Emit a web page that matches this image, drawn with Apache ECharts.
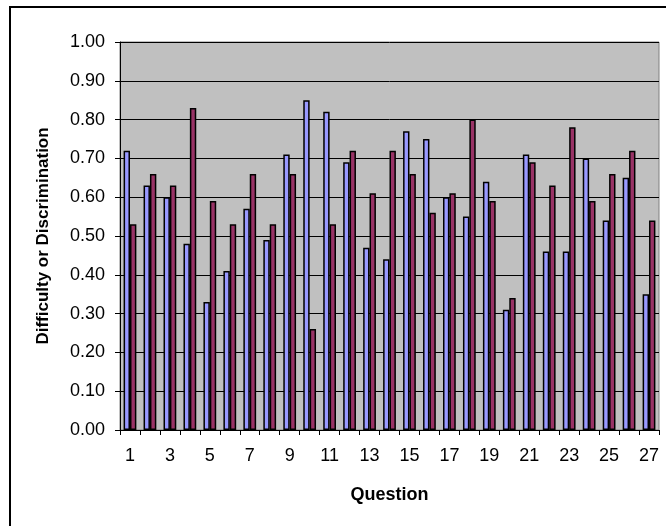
<!DOCTYPE html>
<html>
<head>
<meta charset="utf-8">
<script src="https://cdn.jsdelivr.net/npm/echarts@6/dist/echarts.min.js"></script>
<style>
  html, body { margin: 0; padding: 0; background: #fff; }
  #main { width: 666px; height: 526px; }
</style>
</head>
<body>
<div id="main"></div>
<script>
var questions = [];
for (var q = 1; q <= 27; q++) questions.push(String(q));

var difficulty = [0.72, 0.63, 0.60, 0.48, 0.33, 0.41, 0.57, 0.49, 0.71, 0.85,
  0.82, 0.69, 0.47, 0.44, 0.77, 0.75, 0.60, 0.55, 0.64, 0.31,
  0.71, 0.46, 0.46, 0.70, 0.54, 0.65, 0.35];
var discrimination = [0.53, 0.66, 0.63, 0.83, 0.59, 0.53, 0.66, 0.53, 0.66, 0.26,
  0.53, 0.72, 0.61, 0.72, 0.66, 0.56, 0.61, 0.80, 0.59, 0.34,
  0.69, 0.63, 0.78, 0.59, 0.66, 0.72, 0.54];

var chartDom = document.getElementById('main');
var myChart = echarts.init(chartDom);
var font = 'Liberation Sans, Arial, sans-serif';

var option = {
  animation: false,
  textStyle: { fontFamily: font },
  graphic: [
    {
      type: 'rect',
      shape: { x: 10, y: 7, width: 680, height: 540 },
      style: { fill: 'none', stroke: '#000', lineWidth: 2 },
      z: -10
    }
  ],
  grid: {
    left: 120,
    right: 7,
    top: 42,
    bottom: 96,
    show: true,
    backgroundColor: '#C0C0C0',
    borderColor: '#808080',
    borderWidth: 1
  },
  xAxis: {
    type: 'category',
    data: questions,
    name: 'Question',
    nameLocation: 'middle',
    nameGap: 56,
    nameTextStyle: { fontWeight: 'bold', fontSize: 18, color: '#000', fontFamily: font },
    axisLine: { lineStyle: { color: '#000', width: 1 } },
    axisTick: { show: true, interval: 0, length: 5, lineStyle: { color: '#000' } },
    axisLabel: { interval: 1, color: '#000', fontSize: 18, margin: 17, fontFamily: font },
    splitLine: { show: false }
  },
  yAxis: {
    type: 'value',
    min: 0,
    max: 1,
    interval: 0.1,
    name: 'Difficulty or Discrimination',
    nameLocation: 'middle',
    nameGap: 68,
    nameTextStyle: { fontWeight: 'bold', fontSize: 17, color: '#000', fontFamily: font },
    axisLine: { show: true, lineStyle: { color: '#000', width: 1 } },
    axisTick: { show: true, length: 5, lineStyle: { color: '#000' } },
    axisLabel: {
      color: '#000',
      fontSize: 18,
      margin: 15,
      fontFamily: font,
      formatter: function (v) { return v.toFixed(2); }
    },
    splitLine: { show: true, lineStyle: { color: '#000', width: 1 } }
  },
  series: [
    {
      name: 'Difficulty',
      type: 'bar',
      data: difficulty,
      barGap: '0%',
      barCategoryGap: '36%',
      itemStyle: { color: '#9999FF', borderColor: '#000', borderWidth: 1.5 }
    },
    {
      name: 'Discrimination',
      type: 'bar',
      data: discrimination,
      itemStyle: { color: '#993366', borderColor: '#000', borderWidth: 1.5 }
    }
  ]
};

option && myChart.setOption(option);
</script>
</body>
</html>
